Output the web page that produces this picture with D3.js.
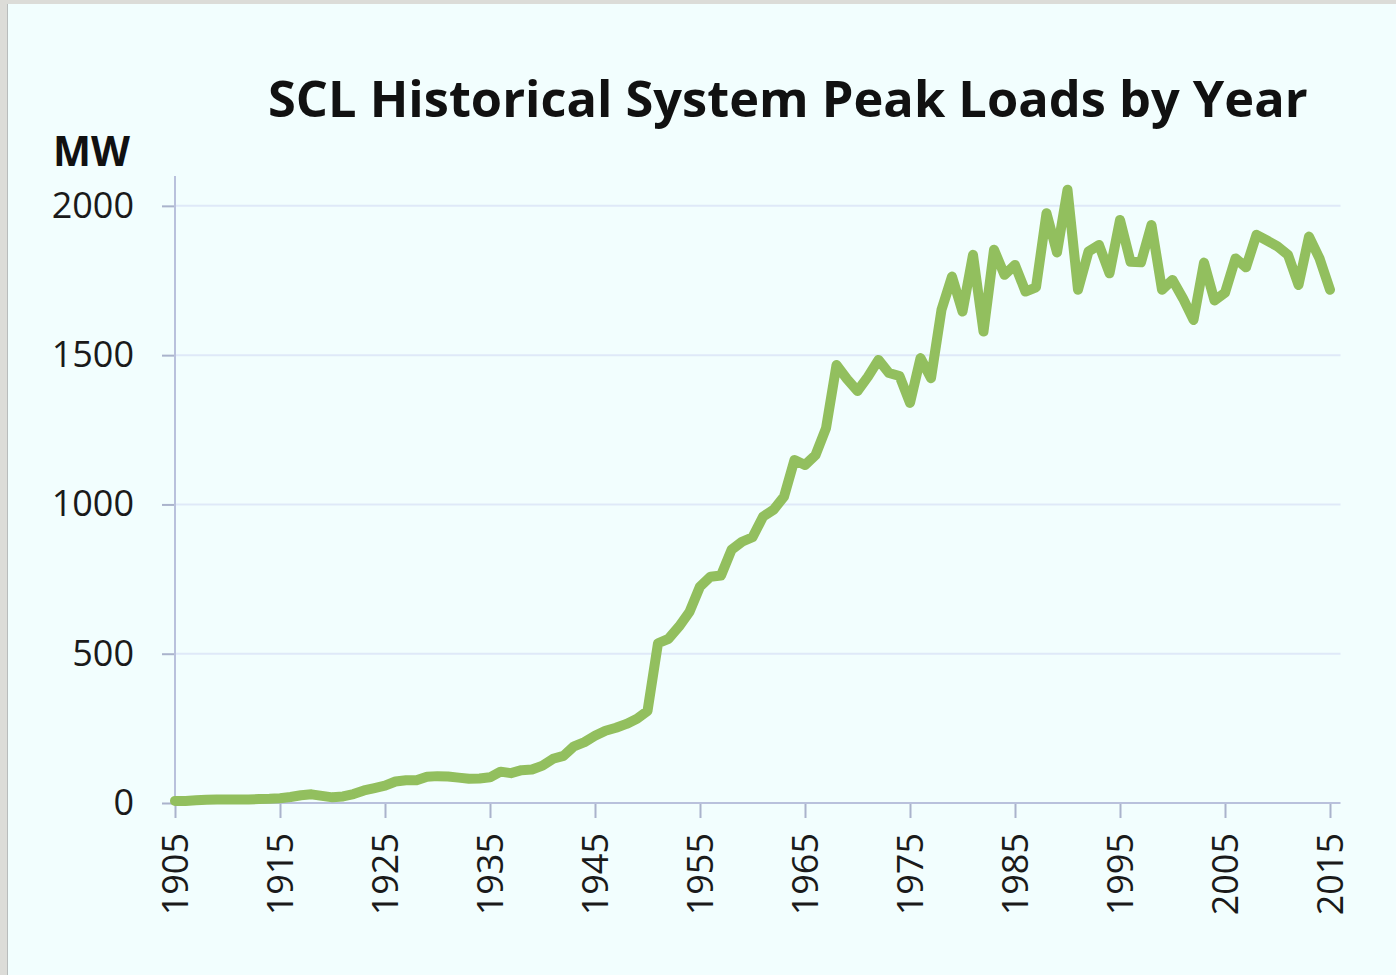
<!DOCTYPE html>
<html>
<head>
<meta charset="utf-8">
<script src="https://cdn.jsdelivr.net/npm/d3@7"></script>
<style>
  body { margin: 0; background: #f2fefe; }
  svg { display: block; font-family: "Open Sans", sans-serif; }
</style>
</head>
<body>
<svg id="chart"></svg>
<script>
// chart data
var firstYear = 1905;
var peakLoads = [
  7, 7, 9, 11, 12, 12, 12, 12, 13, 14,            // 1905-1914
  16, 20, 26, 29, 24, 19, 22, 30, 42, 50,         // 1915-1924
  58, 72, 76, 76, 88, 90, 89, 85, 81, 82,         // 1925-1934
  86, 105, 100, 110, 112, 125, 148, 158, 190, 204, // 1935-1944
  225, 242, 252, 265, 282, 308, 535, 550, 591, 640, // 1945-1954
  725, 758, 762, 848, 875, 890, 959, 982, 1026, 1149, // 1955-1964
  1132, 1165, 1255, 1467, 1420, 1380, 1428, 1484, 1440, 1430, // 1965-1974
  1340, 1490, 1423, 1652, 1763, 1646, 1836, 1579, 1853, 1769, // 1975-1984
  1802, 1713, 1727, 1975, 1844, 2054, 1719, 1847, 1869, 1774, // 1985-1994
  1953, 1813, 1811, 1936, 1719, 1752, 1690, 1618, 1810, 1683, // 1995-2004
  1709, 1824, 1794, 1903, 1884, 1864, 1836, 1735, 1897, 1824, // 2005-2014
  1719                                                          // 2015
];
var yearTicks = [1905, 1915, 1925, 1935, 1945, 1955, 1965, 1975, 1985, 1995, 2005, 2015];
var mwTicks = [0, 500, 1000, 1500, 2000];
var chartTitle = "SCL Historical System Peak Loads by Year";
var unitLabel = "MW";

var years = peakLoads.map(function(d, i){ return firstYear + i; });

var W = 1396, H = 975;
var svg = d3.select("#chart").attr("width", W).attr("height", H);

// background + scanned frame edges
svg.append("rect").attr("width", W).attr("height", H).attr("fill", "#f2fefe");
svg.append("rect").attr("x", 0).attr("y", 0).attr("width", 7).attr("height", H).attr("fill", "#dcdcd8");
svg.append("rect").attr("x", 0).attr("y", 0).attr("width", W).attr("height", 4).attr("fill", "#dcdcd8");
svg.append("line").attr("x1", 7.5).attr("x2", 7.5).attr("y1", 4).attr("y2", H)
    .attr("stroke", "#b8bcbc").attr("stroke-width", 1);

// scales
var xScale = d3.scaleLinear().domain([1905, 2015]).range([175, 1330]);
var yScale = d3.scaleLinear().domain([0, 2100]).range([803, 176]);
var xEnd = xScale(2016);

// gridlines
svg.append("g").selectAll("line")
  .data(mwTicks.filter(function(d){ return d > 0; }))
  .enter().append("line")
    .attr("x1", xScale(1905)).attr("x2", xEnd)
    .attr("y1", function(d){ return yScale(d); })
    .attr("y2", function(d){ return yScale(d); })
    .attr("stroke", "#dfe9f8").attr("stroke-width", 2);

// y axis
var yAxis = d3.axisLeft(yScale).tickValues(mwTicks).tickFormat(d3.format("d"))
  .tickSize(13).tickPadding(28);
var gy = svg.append("g").attr("transform", "translate(175,0)").call(yAxis);
gy.select(".domain").remove();
gy.selectAll(".tick line").attr("stroke", "#aab3cc").attr("stroke-width", 2);
gy.selectAll(".tick text").attr("font-size", 36).attr("fill", "#1a1a1a")
  .attr("font-family", "Open Sans, sans-serif");
svg.append("line").attr("x1", 175).attr("x2", 175).attr("y1", yScale(2100)).attr("y2", yScale(0))
  .attr("stroke", "#b9c1dc").attr("stroke-width", 2);

// x axis
var xAxis = d3.axisBottom(xScale).tickValues(yearTicks).tickFormat(d3.format("d")).tickSize(15);
var gx = svg.append("g").attr("transform", "translate(0,803)").call(xAxis);
gx.select(".domain").remove();
gx.selectAll(".tick line").attr("stroke", "#aab3cc").attr("stroke-width", 2);
gx.selectAll(".tick text")
  .attr("font-size", 36).attr("fill", "#1a1a1a")
  .attr("font-family", "Open Sans, sans-serif")
  .attr("transform", "rotate(-90)")
  .attr("text-anchor", "end")
  .attr("x", -30).attr("y", 0).attr("dy", "0.35em");
svg.append("line").attr("x1", 175).attr("x2", xEnd).attr("y1", 803).attr("y2", 803)
  .attr("stroke", "#b9c1dc").attr("stroke-width", 2);

// the load line
var line = d3.line()
  .x(function(d, i){ return xScale(years[i]); })
  .y(function(d){ return yScale(d); });

svg.append("path")
  .datum(peakLoads)
  .attr("fill", "none")
  .attr("stroke", "#92bf5e")
  .attr("stroke-width", 10)
  .attr("stroke-linejoin", "round")
  .attr("stroke-linecap", "round")
  .attr("d", line);

// fit a text to a given width by changing its size
function fitText(t, width){
  var fs = +t.attr("font-size");
  var w = t.node().getComputedTextLength();
  t.attr("font-size", fs * width / w);
}

// title
var title = svg.append("text")
  .attr("x", 268).attr("y", 117)
  .attr("font-size", 50).attr("font-weight", 700).attr("fill", "#111")
  .text(chartTitle);
fitText(title, 1040);

// unit label
var unit = svg.append("text")
  .attr("x", 53).attr("y", 166)
  .attr("font-size", 38).attr("font-weight", 700).attr("fill", "#111")
  .text(unitLabel);
fitText(unit, 77);
</script>
</body>
</html>
